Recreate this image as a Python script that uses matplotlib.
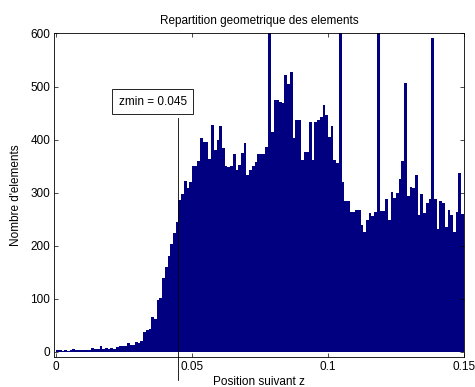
import numpy as np
import matplotlib.pyplot as plt
import matplotlib as mpl

mpl.rcParams.update({'font.family': ['Liberation Sans', 'DejaVu Sans'], 'font.size': 8.5})

# histogram of element positions along z, bins of 0.001 starting at 0
bin_width = 0.001
counts = [
    3, 3, 2, 3, 2, 3, 5, 4, 3, 3,
    3, 3, 4, 7, 5, 5, 10, 5, 7, 6,
    7, 5, 8, 11, 10, 10, 16, 12, 12, 19,
    16, 21, 37, 40, 42, 66, 61, 98, 102, 139,
    160, 180, 204, 223, 245, 286, 298, 322, 308, 320,
    351, 350, 359, 402, 395, 395, 364, 427, 380, 400,
    425, 385, 350, 348, 350, 372, 343, 352, 374, 394,
    333, 342, 350, 358, 372, 372, 372, 386, 660, 415,
    474, 474, 471, 468, 522, 505, 528, 402, 437, 437,
    361, 376, 376, 434, 361, 434, 437, 442, 465, 446,
    404, 426, 361, 355, 640, 320, 285, 285, 264, 264,
    268, 267, 239, 226, 248, 261, 255, 264, 650, 266,
    266, 288, 248, 302, 289, 300, 325, 360, 507, 293,
    311, 308, 334, 258, 298, 261, 280, 287, 592, 287,
    232, 284, 281, 235, 268, 258, 226, 264, 337, 259,
]
zmin = 0.045
zmin_line = [-53, 440]

edges = np.arange(len(counts)) * bin_width

fig = plt.figure(figsize=(4.75, 3.87), dpi=100)
ax = fig.add_axes([0.1147, 0.0775, 0.862, 0.836])

ax.bar(edges, counts, width=bin_width, align='edge',
       color='#000080', edgecolor='none', linewidth=0)

# marker for zmin
ax.plot([zmin, zmin], zmin_line, color='k', lw=0.6, clip_on=False)
ax.text(0.0355, 471, 'zmin = %.3f' % zmin, ha='center', va='center',
        bbox=dict(facecolor='white', edgecolor='k', linewidth=0.6,
                  boxstyle='square,pad=0.55'))

ax.set_xlim(-0.0006, 0.15)
ax.set_ylim(-10, 600)
ax.set_xticks([0, 0.05, 0.1, 0.15])
ax.set_xticklabels(['0', '0.05', '0.1', '0.15'])
ax.set_yticks(range(0, 601, 100))
ax.tick_params(direction='in', top=True, right=True, length=3, width=0.5, pad=3)
for s in ax.spines.values():
    s.set_linewidth(0.6)

ax.set_title('Repartition geometrique des elements', fontsize=8.5, pad=7)
ax.set_xlabel('Position suivant z', labelpad=2)
ax.set_ylabel("Nombre d'elements", labelpad=6)

fig.savefig('out.png', dpi=100)
